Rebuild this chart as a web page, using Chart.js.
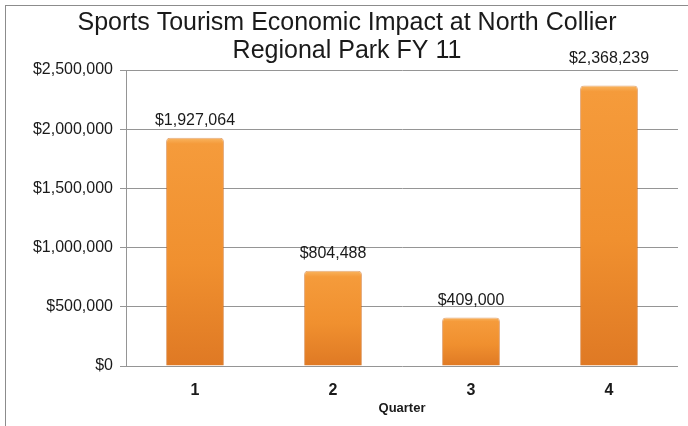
<!DOCTYPE html>
<html>
<head>
<meta charset="utf-8">
<script src="https://cdn.jsdelivr.net/npm/chart.js@4"></script>
<style>
  html, body { margin: 0; padding: 0; background: #fff; }
  #wrap { position: relative; width: 688px; height: 426px; }
</style>
</head>
<body>
<div id="wrap"><canvas id="impactChart" width="688" height="426"></canvas></div>
<script>
const quarters = ["1", "2", "3", "4"];
const impactValues = [1927064, 804488, 409000, 2368239];
const impactLabels = ["$1,927,064", "$804,488", "$409,000", "$2,368,239"];
const titleLines = ["Sports Tourism Economic Impact at North Collier", "Regional Park FY 11"];

const fontFamily = "'Liberation Sans', Arial, sans-serif";
const formatDollars = (value) => "$" + value.toLocaleString("en-US");

const frameBorder = {
  id: "frameBorder",
  beforeDraw: (chart) => {
    const ctx = chart.ctx;
    ctx.save();
    ctx.strokeStyle = "#8c8c8c";
    ctx.lineWidth = 1;
    ctx.strokeRect(5.5, 5.5, chart.width + 10, chart.height + 10);
    ctx.restore();
  },
};

const barValueLabels = {
  id: "barValueLabels",
  afterDatasetsDraw: (chart) => {
    const ctx = chart.ctx;
    const meta = chart.getDatasetMeta(0);
    ctx.save();
    ctx.font = "16px " + fontFamily;
    ctx.fillStyle = "#1a1a1a";
    ctx.textAlign = "center";
    ctx.textBaseline = "bottom";
    meta.data.forEach((bar, i) => {
      let y = bar.y - 9;
      if (y - 16 < chart.chartArea.top) y = chart.chartArea.top - 3;
      ctx.fillText(impactLabels[i], bar.x, y);
    });
    ctx.restore();
  },
};

// vertical shading per bar: light rim on top, darker towards the base
const barFill = (context) => {
  const chart = context.chart;
  const yScale = chart.scales.y;
  if (!chart.chartArea || !yScale || context.raw === undefined) return "#f0922e";
  const top = yScale.getPixelForValue(context.raw);
  const base = yScale.getPixelForValue(0);
  if (!isFinite(top) || !isFinite(base) || base <= top) return "#f0922e";
  const g = chart.ctx.createLinearGradient(0, top, 0, base);
  g.addColorStop(0, "#f9b560");
  g.addColorStop(Math.min(0.08, 6 / (base - top)), "#f59b3b");
  g.addColorStop(0.55, "#f0902f");
  g.addColorStop(1, "#df7924");
  return g;
};

const impactChart = document.getElementById("impactChart");
new Chart(impactChart, {
  type: "bar",
  data: {
    labels: quarters,
    datasets: [
      {
        label: "Economic Impact",
        data: impactValues,
        backgroundColor: barFill,
        borderColor: "rgba(205, 105, 25, 0.55)",
        borderWidth: 1,
        borderRadius: { topLeft: 4, topRight: 4 },
        borderSkipped: "bottom",
        barPercentage: 0.42,
        categoryPercentage: 1,
      },
    ],
  },
  options: {
    responsive: false,
    animation: false,
    devicePixelRatio: 1,
    layout: { padding: { left: 16, right: 10, top: 0, bottom: 0 } },
    plugins: {
      legend: { display: false },
      tooltip: { enabled: false },
      title: {
        display: true,
        text: titleLines,
        color: "#1a1a1a",
        font: { size: 25, family: fontFamily, weight: "normal", lineHeight: 1.12 },
        padding: { top: 9, bottom: 5 },
      },
    },
    scales: {
      x: {
        grid: { display: false, drawTicks: false },
        border: { display: false },
        ticks: {
          color: "#1a1a1a",
          font: { size: 16, weight: "bold", family: fontFamily },
          padding: 15,
        },
        title: {
          display: true,
          text: "Quarter",
          color: "#1a1a1a",
          font: { size: 13, weight: "bold", family: fontFamily },
          padding: { top: 0, bottom: 10 },
        },
        afterFit: (scale) => {
          scale.height = 60;
        },
      },
      y: {
        min: 0,
        max: 2500000,
        ticks: {
          stepSize: 500000,
          color: "#1a1a1a",
          font: { size: 16, family: fontFamily },
          padding: 7,
          callback: (value) => formatDollars(value),
        },
        grid: { color: "#959595", tickLength: 6 },
        border: { display: true, color: "#959595" },
        afterFit: (scale) => {
          scale.width = 110;
        },
      },
    },
  },
  plugins: [frameBorder, barValueLabels],
});
</script>
</body>
</html>
